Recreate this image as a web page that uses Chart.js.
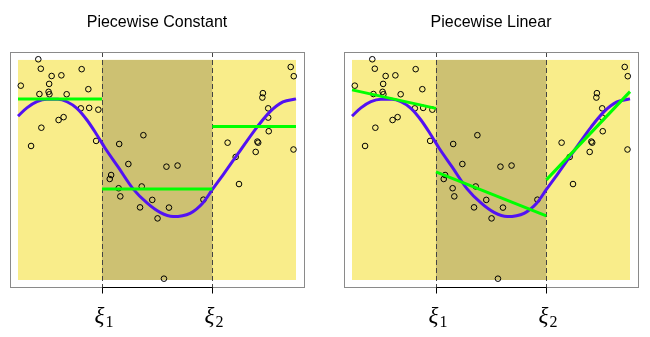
<!DOCTYPE html>
<html>
<head>
<meta charset="utf-8">
<script src="https://cdn.jsdelivr.net/npm/chart.js@4"></script>
<style>
html, body { margin: 0; padding: 0; background: #fff; }
#wrap { position: relative; width: 650px; height: 337px; }
canvas { position: absolute; top: 0; }
</style>
</head>
<body>
<div id="wrap">
<canvas id="left_chart" width="325" height="337" style="left:0"></canvas>
<canvas id="right_chart" width="325" height="337" style="left:325px"></canvas>
</div>
<script>
// knots and their subscripts (label is xi + subscript)
var knots = [0.302, 0.699];
var knot_subs = ['1', '2'];

// observed points
var point_x = [0.073, 0.082, 0.121, 0.156, 0.229, 0.010, 0.112, 0.077, 0.110, 0.113,
               0.175, 0.253, 0.226, 0.256, 0.289, 0.146, 0.164, 0.084, 0.047, 0.281,
               0.364, 0.451, 0.397, 0.335, 0.330, 0.362, 0.368, 0.445, 0.483, 0.439,
               0.502, 0.534, 0.574, 0.543, 0.667, 0.525, 0.783, 0.795, 0.754, 0.855,
               0.861, 0.864, 0.902, 0.900, 0.900, 0.879, 0.881, 0.981, 0.992, 0.991];
var point_y = [1.003, 0.960, 0.927, 0.930, 0.958, 0.883, 0.891, 0.845, 0.855, 0.844,
               0.844, 0.867, 0.780, 0.782, 0.774, 0.727, 0.740, 0.692, 0.609, 0.632,
               0.618, 0.658, 0.527, 0.477, 0.459, 0.417, 0.380, 0.425, 0.364, 0.330,
               0.280, 0.515, 0.520, 0.329, 0.365, 0.006, 0.559, 0.436, 0.624, 0.582,
               0.629, 0.624, 0.676, 0.738, 0.780, 0.829, 0.849, 0.968, 0.926, 0.593];

// true function (purple)
var curve_x = [0, 0.032, 0.068, 0.104, 0.144, 0.176, 0.212, 0.248, 0.284, 0.313,
               0.360, 0.414, 0.464, 0.511, 0.558, 0.619, 0.665, 0.698, 0.737, 0.788,
               0.860, 0.906, 0.953, 1.0];
var curve_y = [0.745, 0.782, 0.810, 0.821, 0.821, 0.810, 0.780, 0.727, 0.659, 0.600,
               0.514, 0.414, 0.350, 0.307, 0.288, 0.303, 0.350, 0.409, 0.477, 0.568,
               0.695, 0.764, 0.809, 0.823];

// fitted pieces (green)
var seg_x = [[0, 0.302], [0.302, 0.699], [0.699, 1]];
var const_y = [[0.823, 0.823], [0.414, 0.414], [0.697, 0.697]];
var lin_y = [[0.864, 0.780], [0.491, 0.291], [0.455, 0.856]];

var YELLOW = '#F9ED8A';
var OLIVE = '#CDC172';
var PURPLE = '#5212F2';
var GREEN = '#00FF00';

var panelPlugin = {
  id: 'panel',
  beforeDatasetsDraw: function(chart) {
    var ctx = chart.ctx, xs = chart.scales.x, ys = chart.scales.y, a = chart.chartArea;
    ctx.save();
    ctx.fillStyle = YELLOW;
    ctx.fillRect(xs.getPixelForValue(0), ys.getPixelForValue(1),
                 xs.getPixelForValue(1) - xs.getPixelForValue(0),
                 ys.getPixelForValue(0) - ys.getPixelForValue(1));
    ctx.fillStyle = OLIVE;
    ctx.fillRect(xs.getPixelForValue(knots[0]), ys.getPixelForValue(1),
                 xs.getPixelForValue(knots[1]) - xs.getPixelForValue(knots[0]),
                 ys.getPixelForValue(0) - ys.getPixelForValue(1));
    ctx.strokeStyle = '#444';
    ctx.lineWidth = 1;
    ctx.setLineDash([5, 3]);
    knots.forEach(function(k) {
      var x = Math.round(xs.getPixelForValue(k)) + 0.5;
      ctx.beginPath();
      ctx.moveTo(x, a.top);
      ctx.lineTo(x, a.bottom);
      ctx.stroke();
    });
    ctx.restore();
  },
  afterDraw: function(chart) {
    var ctx = chart.ctx, xs = chart.scales.x, a = chart.chartArea;
    ctx.save();
    // box
    ctx.strokeStyle = '#8a8a8a';
    ctx.lineWidth = 1;
    ctx.strokeRect(Math.round(a.left) + 0.5, Math.round(a.top) + 0.5,
                   Math.round(a.right - a.left), Math.round(a.bottom - a.top));
    // axis line between ticks, ticks, labels
    var yb = Math.round(a.bottom) + 0.5;
    var k1 = Math.round(xs.getPixelForValue(knots[0])) + 0.5;
    var k2 = Math.round(xs.getPixelForValue(knots[knots.length - 1])) + 0.5;
    ctx.strokeStyle = '#000';
    ctx.beginPath();
    ctx.moveTo(k1, yb);
    ctx.lineTo(k2, yb);
    ctx.stroke();
    knots.forEach(function(k, i) {
      var x = Math.round(xs.getPixelForValue(k)) + 0.5;
      ctx.beginPath();
      ctx.moveTo(x, yb);
      ctx.lineTo(x, yb + 6);
      ctx.stroke();
      ctx.fillStyle = '#000';
      ctx.font = 'italic 23px "Liberation Serif"';
      var w1 = ctx.measureText('ξ').width;
      ctx.font = '16px "Liberation Serif"';
      var w2 = ctx.measureText(knot_subs[i]).width;
      var x0 = x - (w1 + w2) / 2 + 1;
      ctx.textBaseline = 'alphabetic';
      ctx.textAlign = 'left';
      ctx.font = 'italic 23px "Liberation Serif"';
      ctx.fillText('ξ', x0, a.bottom + 36);
      ctx.font = '16px "Liberation Serif"';
      ctx.fillText(knot_subs[i], x0 + w1 + 1, a.bottom + 40);
    });
    ctx.restore();
  }
};

function make_panel(id, title, fit_y, pad)
{
  var datasets = [];
  for (var i = 0; i < seg_x.length; i++) {
    datasets.push({
      type: 'line',
      data: seg_x[i].map(function(x, j) { return {x: x, y: fit_y[i][j]}; }),
      borderColor: GREEN,
      borderWidth: 3,
      pointRadius: 0,
      fill: false
    });
  }
  datasets.push({
    type: 'line',
    data: curve_x.map(function(x, j) { return {x: x, y: curve_y[j]}; }),
    borderColor: PURPLE,
    borderWidth: 3,
    pointRadius: 0,
    cubicInterpolationMode: 'monotone',
    fill: false
  });
  datasets.push({
    type: 'scatter',
    data: point_x.map(function(x, j) { return {x: x, y: point_y[j]}; }),
    pointStyle: 'circle',
    pointRadius: 2.8,
    pointBorderWidth: 1,
    borderColor: '#000',
    backgroundColor: 'rgba(0,0,0,0)'
  });

  var ctx = document.getElementById(id).getContext('2d');
  return new Chart(ctx, {
    type: 'scatter',
    data: { datasets: datasets },
    options: {
      responsive: false,
      animation: false,
      devicePixelRatio: 1,
      layout: { padding: pad },
      scales: {
        x: { type: 'linear', display: false, min: -0.0288, max: 1.0288 },
        y: { type: 'linear', display: false, min: -0.0318, max: 1.036 }
      },
      plugins: {
        legend: { display: false },
        tooltip: { enabled: false },
        title: {
          display: true,
          text: title,
          color: '#000',
          font: { family: '"Liberation Sans", Arial, sans-serif', size: 16, weight: 'normal', lineHeight: 1.2 },
          padding: { top: 0, bottom: 19.4 }
        }
      }
    },
    plugins: [panelPlugin]
  });
}

make_panel('left_chart', 'Piecewise Constant', const_y, { top: 13.4, left: 10, right: 21, bottom: 50 });
make_panel('right_chart', 'Piecewise Linear', lin_y, { top: 13.4, left: 19, right: 12, bottom: 50 });
</script>
</body>
</html>
